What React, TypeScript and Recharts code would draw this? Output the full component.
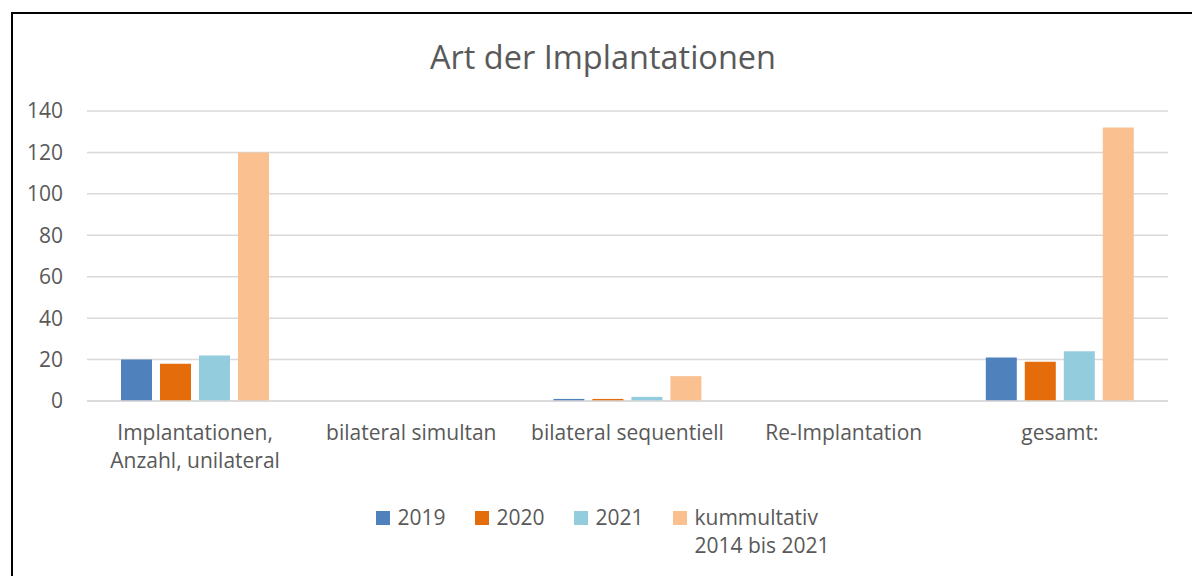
import React from 'react';
import { BarChart, Bar, XAxis, YAxis, CartesianGrid } from 'recharts';

const categories = ['Implantationen,\nAnzahl, unilateral', 'bilateral simultan', 'bilateral sequentiell', 'Re-Implantation', 'gesamt:'];
const values2019 = [20, 0, 1, 0, 21];
const values2020 = [18, 0, 1, 0, 19];
const values2021 = [22, 0, 2, 0, 24];
const valuesKum = [120, 0, 12, 0, 132];
const yTicks = [0, 20, 40, 60, 80, 100, 120, 140];
const seriesKeys = ['y2019', 'y2020', 'y2021', 'kum'];
const seriesNames = ['2019', '2020', '2021', 'kummultativ\n2014 bis 2021'];
const seriesColors = ['#4F81BD', '#E46C0A', '#93CDDD', '#FAC090'];
const title = 'Art der Implantationen';

const data = categories.map((c, i) => ({
  name: c,
  y2019: values2019[i],
  y2020: values2020[i],
  y2021: values2021[i],
  kum: valuesKum[i],
}));

const FONT = '"Open Sans", sans-serif';
const TEXT = '#595959';
const FS = 21;

const XTick = (props: any) => {
  const { x, y, payload } = props;
  const lines = String(payload.value).split('\n');
  return (
    <g>
      {lines.map((l, i) => (
        <text key={i} x={x} y={y + 31 + i * 28} textAnchor="middle" dominantBaseline="central" fill={TEXT} fontSize={FS} fontFamily={FONT}>
          {l}
        </text>
      ))}
    </g>
  );
};

export default function App() {
  return (
    <div style={{ position: 'absolute', left: 11, top: 12, width: 1200, height: 580, border: '2px solid #000', boxSizing: 'border-box', background: '#fff', fontFamily: FONT, fontVariantLigatures: 'none' }}>
      <div style={{ position: 'absolute', left: 0, top: 23, width: 1180, textAlign: 'center', fontSize: 32.5, color: TEXT, lineHeight: '40px' }}>{title}</div>
      <BarChart width={1180} height={560} data={data} margin={{ top: 97, right: 25, left: 0, bottom: 103 }} barSize={31} barGap={8}>
        <CartesianGrid vertical={false} stroke="#D9D9D9" strokeWidth={1.5} />
        <YAxis domain={[0, 140]} ticks={yTicks} width={74} axisLine={false} tickLine={false} tickSize={0} tickMargin={24} tick={{ fill: TEXT, fontSize: FS, fontFamily: FONT }} interval={0} />
        <XAxis dataKey="name" height={70} axisLine={{ stroke: '#D9D9D9', strokeWidth: 1.5 }} tickLine={false} tickSize={0} tickMargin={0} tick={<XTick />} interval={0} />
        {seriesKeys.map((k, i) => (
          <Bar key={k} dataKey={k} fill={seriesColors[i]} isAnimationActive={false} />
        ))}
      </BarChart>
      <div style={{ position: 'absolute', left: 0, top: 489, width: 1180, display: 'flex', justifyContent: 'center', gap: 30, fontSize: FS, color: TEXT }}>
        {seriesNames.map((n, i) => (
          <div key={n} style={{ display: 'flex', alignItems: 'flex-start' }}>
            <div style={{ width: 14, height: 14, background: seriesColors[i], marginTop: 8, marginRight: 7 }} />
            <div style={{ lineHeight: '28px', whiteSpace: 'pre' }}>{n}</div>
          </div>
        ))}
      </div>
    </div>
  );
}
